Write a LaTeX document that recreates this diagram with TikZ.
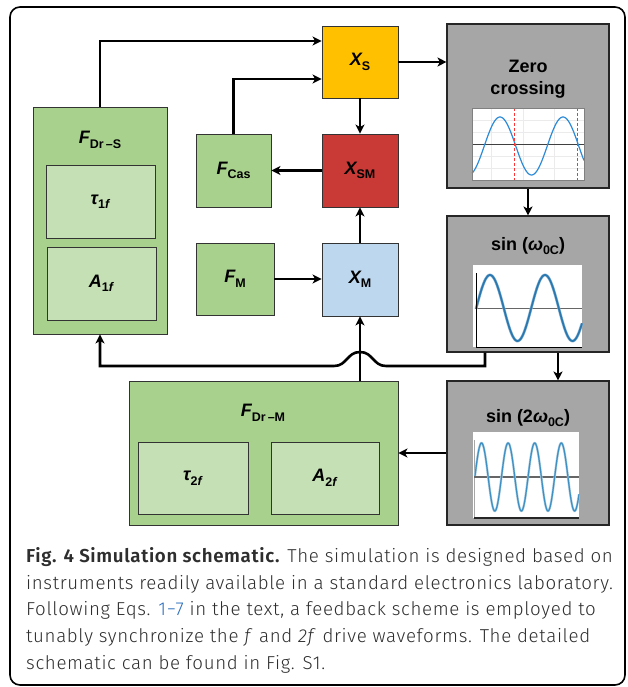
\documentclass[tikz,border=0pt]{standalone}
\usepackage{fontspec}
\setmainfont{Liberation Sans}
\newfontfamily\capfont{Fira Sans}[UprightFont=* Light, BoldFont=* SemiBold, ItalicFont=* Light Italic, LetterSpace=3.5]
\usetikzlibrary{arrows.meta}
\definecolor{gA}{HTML}{A9D18E}
\definecolor{gB}{HTML}{C5E0B4}
\definecolor{yelb}{HTML}{FFC000}
\definecolor{redb}{HTML}{C93A36}
\definecolor{blueb}{HTML}{BDD7EE}
\definecolor{grayb}{HTML}{A6A6A6}
\definecolor{sineA}{HTML}{2D8BD8}
\definecolor{sineB}{HTML}{2A78B0}
\definecolor{sineC}{HTML}{3E8FC2}
\definecolor{linkblue}{HTML}{2A6EBB}
\newcommand{\mysub}[1]{\raisebox{-4.5pt}{\fontsize{12.5}{12.5}\selectfont\bfseries #1}}
\newcommand{\lbl}[2]{{\fontsize{18}{18}\selectfont\bfseries\itshape #1}\mysub{#2}}
\begin{document}
\begin{tikzpicture}[x=1pt,y=-1pt,
  box/.style={draw=black!80, line width=0.9pt, inner sep=0pt, align=center},
  gbox/.style={box, fill=grayb, draw=black!85, line width=1.1pt},
  conn/.style={line width=2.6pt, -{Stealth[length=9pt,width=9pt,inset=2.5pt]}},
  ttl/.style={font=\fontsize{18}{21.7}\selectfont\bfseries, align=center, inner sep=0pt},
  captext/.style={font=\capfont\fontsize{18.7}{18.7}\selectfont, text=black!82, anchor=base west, inner sep=0pt}]
\useasboundingbox (0,0) rectangle (627,687);
\draw[line width=1.6pt, rounded corners=10pt] (10,7) rectangle (625,685);

% left drive block
\node[box, fill=gA, minimum width=134pt, minimum height=227pt] (fds) at (100,220.5) {};
\node (fdsl) at (100,140) {\lbl{F}{Dr\,–S}};
\node[box, fill=gB, minimum width=109pt, minimum height=73pt] (t1) at (100.5,201.5) {\lbl{τ}{1\textit{f}}};
\node[box, fill=gB, minimum width=109pt, minimum height=73pt] (a1) at (101.5,283.5) {\lbl{A}{1\textit{f}}};

\node[box, fill=gA, minimum width=75pt, minimum height=73pt] (fcas) at (233.5,170.5) {\lbl{F}{Cas}};
\node[box, fill=gA, minimum width=78pt, minimum height=72pt] (fm) at (235,279) {\lbl{F}{M}};

\node[box, fill=yelb, minimum width=76pt, minimum height=72pt] (xs) at (360,62) {\lbl{X}{S}};
\node[box, fill=redb, minimum width=76pt, minimum height=73pt] (xsm) at (360,170.5) {\lbl{X}{SM}};
\node[box, fill=blueb, minimum width=76pt, minimum height=73pt] (xm) at (360,279.5) {\lbl{X}{M}};

% bottom drive block
\node[box, fill=gA, minimum width=269pt, minimum height=144pt] (fdm) at (263.5,453) {};
\node (fdml) at (263,413) {\lbl{F}{Dr\,–M}};
\node[box, fill=gB, minimum width=110pt, minimum height=72pt] (t2) at (193,478) {\lbl{τ}{2\textit{f}}};
\node[box, fill=gB, minimum width=108pt, minimum height=72pt] (a2) at (325,478) {\lbl{A}{2\textit{f}}};

% gray blocks
\node[gbox, minimum width=162pt, minimum height=164pt] (zc) at (528,106) {};
\node[ttl] (zct) at (528,79) {Zero\\crossing};
\node[gbox, minimum width=162pt, minimum height=136pt] (s1) at (528,284) {};
\node[ttl] (s1t) at (528,246) {sin (\textit{ω}\mysub{0C})};
\node[gbox, minimum width=162pt, minimum height=144pt] (s2) at (528,453) {};
\node[ttl] (s2t) at (528,418) {sin (2\textit{ω}\mysub{0C})};

% plot 1: zero crossing
\fill[white] (472,108) rectangle (584,180);
\foreach \gx in {491,523,554} \draw[black!8, line width=0.5pt] (\gx,108) -- (\gx,180);
\foreach \gy in {120,132,156,168} \draw[black!8, line width=0.5pt] (472,\gy) -- (584,\gy);
\draw[black!75, line width=0.9pt] (472,144) -- (584,144);
\draw[sineA, line width=1.2pt, domain=472:584, samples=120] plot (\x, {146 - 29*cos((\x-500)*5.7143)});
\draw[red!80!white, line width=1pt, dash pattern=on 3pt off 2pt] (514,108) -- (514,180);
\draw[red!80!white, line width=1pt, dash pattern=on 3pt off 2pt] (577,108) -- (577,180);
\draw[black!50, line width=0.6pt] (472,108) rectangle (584,180);

% plot 2: sin(w)
\fill[white] (473,265) rectangle (582,347);
\draw[black!60, line width=1pt] (476,308) -- (582,308);
\draw[sineB!55!white, line width=2.8pt, domain=476:582, samples=120] plot (\x, {308 - 33*cos((\x-490)*6.5455)});
\draw[sineB, line width=1.7pt, domain=476:582, samples=120] plot (\x, {308 - 33*cos((\x-490)*6.5455)});
\draw[black, line width=1pt] (476,273) -- (476,347) -- (582,347);

% plot 3: sin(2w)
\fill[white] (473,432) rectangle (579,518);
\draw[black!35, line width=0.8pt] (474,440) -- (474,518);
\draw[black!60, line width=1.4pt] (474,477) -- (579,477);
\draw[sineC!45!white, line width=2.3pt, domain=475:579, samples=200] plot (\x, {477 - 34*cos((\x-481.5)*13.534)});
\draw[sineC, line width=1.2pt, domain=475:579, samples=200] plot (\x, {477 - 34*cos((\x-481.5)*13.534)});
\draw[black!85, line width=1.8pt] (474,518) -- (579,518);

% connectors
\draw[conn] (fds.north) |- ([yshift=21pt]xs.west);
\draw[conn] (fcas.north) |- ([yshift=-17pt]xs.west);
\draw[conn] (xs.east) -- (xs.east -| zc.west);
\draw[conn] (xs.south) -- (xsm.north);
\draw[conn] (xm.north) -- (xsm.south);
\draw[conn] (xsm.west) -- (fcas.east);
\draw[conn] (fm.east) -- (fm.east -| xm.west);
\draw[conn] (zc.south) -- (s1.north);
\draw[conn] ([xshift=30pt]s1.south) -- ([xshift=30pt]s2.north);
\coordinate (hop) at (360,366);
\draw[conn] ([xshift=-43pt]s1.south) |- ([xshift=26pt]hop)
  .. controls ([xshift=13pt]hop) and ([xshift=13pt,yshift=14pt]hop) .. ([yshift=14pt]hop)
  .. controls ([xshift=-13pt,yshift=14pt]hop) and ([xshift=-13pt]hop) .. ([xshift=-26pt]hop)
  -| (fds.south);
\draw[conn] (fdm.north -| xm.south) -- (xm.south);
\draw[conn] (s2.west) -- (fdm.east);

% caption
\node[captext] (cap1) at (26,562) {{\bfseries Fig. 4 Simulation schematic.} The simulation is designed based on};
\node[captext] (cap2) at (26,589) {instruments readily available in a standard electronics laboratory.};
\node[captext] (cap3) at (26,615.5) {Following Eqs. {\color{linkblue}1−7} in the text, a feedback scheme is employed to};
\node[captext] (cap4) at (26,642) {tunably synchronize the \textit{f} and \textit{2f} drive waveforms. The detailed};
\node[captext] (cap5) at (26,669) {schematic can be found in Fig. S1.};
\end{tikzpicture}
\end{document}
